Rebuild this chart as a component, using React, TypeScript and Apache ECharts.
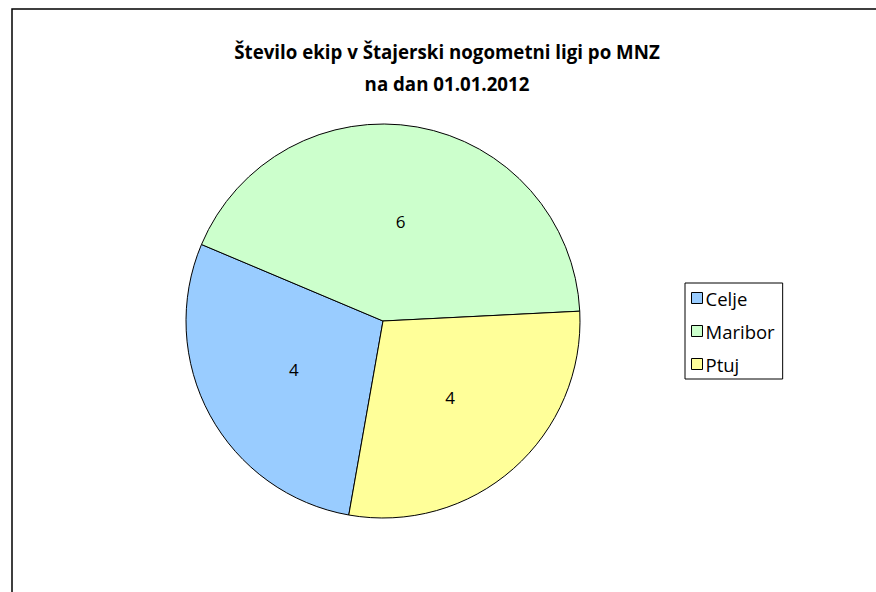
import React, { useEffect, useRef } from "react";
import * as echarts from "echarts";

const titleLines = ["Število ekip v Štajerski nogometni ligi po MNZ", "na dan 01.01.2012"];
const categories = ["Celje", "Maribor", "Ptuj"];
const values = [4, 6, 4];
const colors = ["#99CCFF", "#CCFFCC", "#FFFF99"];

const FONT = "'Open Sans', 'Noto Sans', sans-serif";

export default function App() {
  const ref = useRef<HTMLDivElement>(null);
  useEffect(() => {
    document.body.style.margin = "0";
    const chart = echarts.init(ref.current!, null, { renderer: "svg" });
    chart.setOption({
      animation: false,
      backgroundColor: "#fff",
      title: {
        text: titleLines.join("\n"),
        left: 442,
        textAlign: "center",
        top: 30,
        textStyle: {
          fontFamily: FONT,
          fontSize: 18.7,
          fontWeight: "bold",
          color: "#000",
          lineHeight: 32,
        },
      },
      legend: {
        orient: "vertical",
        left: 685,
        top: 283,
        data: categories,
        itemWidth: 11,
        itemHeight: 11,
        itemGap: 13,
        padding: [5, 8, 5, 6],
        borderColor: "#000",
        borderWidth: 1,
        icon: "rect",
        itemStyle: { borderColor: "#000", borderWidth: 1 },
        textStyle: { fontFamily: FONT, fontSize: 18.5, color: "#000", padding: [0, 0, 0, -2], lineHeight: 20 },
      },
      graphic: [
        {
          type: "rect",
          shape: { x: 12, y: 9, width: 1000, height: 1000 },
          style: { fill: "none", stroke: "#000", lineWidth: 1.5 },
          silent: true,
        },
      ],
      series: [
        {
          type: "pie",
          center: [383, 321],
          radius: 197,
          startAngle: 260,
          clockwise: true,
          data: categories.map((c, i) => ({
            name: c,
            value: values[i],
            itemStyle: { color: colors[i] },
          })),
          itemStyle: { borderColor: "#000", borderWidth: 1 },
          label: {
            show: true,
            position: "inside",
            formatter: "{c}",
            fontFamily: FONT,
            fontSize: 17,
            color: "#000",
          },
          labelLine: { show: false },
          emphasis: { disabled: true },
        },
      ],
    });
    return () => chart.dispose();
  }, []);
  return <div ref={ref} style={{ width: 876, height: 592 }} />;
}
